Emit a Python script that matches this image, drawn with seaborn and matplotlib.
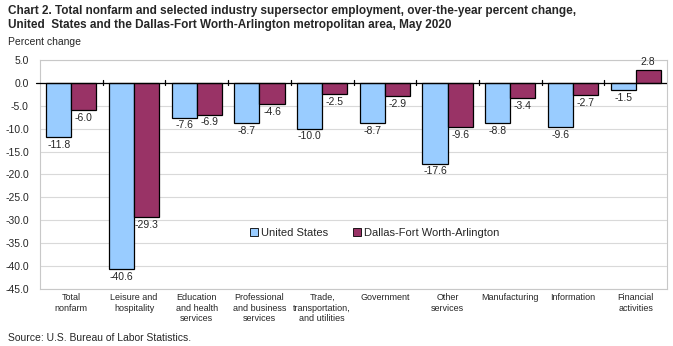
import numpy as np
import pandas as pd
import matplotlib
matplotlib.use("Agg")
import matplotlib.pyplot as plt
import seaborn as sns

categories = ["Total\nnonfarm", "Leisure and\nhospitality", "Education\nand health\nservices",
              "Professional\nand business\nservices", "Trade,\ntransportation,\nand utilities",
              "Government", "Other\nservices", "Manufacturing", "Information", "Financial\nactivities"]
us_values = [-11.8, -40.6, -7.6, -8.7, -10.0, -8.7, -17.6, -8.8, -9.6, -1.5]
dfw_values = [-6.0, -29.3, -6.9, -4.6, -2.5, -2.9, -9.6, -3.4, -2.7, 2.8]
series = ["United States", "Dallas-Fort Worth-Arlington"]
colors = ["#99CCFF", "#993366"]
yticks = [5.0, 0.0, -5.0, -10.0, -15.0, -20.0, -25.0, -30.0, -35.0, -40.0, -45.0]

df = pd.DataFrame({
    "category": categories * 2,
    "value": us_values + dfw_values,
    "series": [series[0]] * len(categories) + [series[1]] * len(categories),
})

sns.set_theme(style="white")
plt.rcParams['font.family'] = ['Liberation Sans', 'DejaVu Sans']

fig = plt.figure(figsize=(6.73, 3.46), dpi=100)
ax = fig.add_axes([40/673, (346-289)/346, (667-40)/673, (289-60)/346])

sns.barplot(data=df, x="category", y="value", hue="series", palette=colors,
            order=categories, hue_order=series, width=0.8, edgecolor="black",
            linewidth=0.9, ax=ax, saturation=1, legend=True)

ax.set_ylim(-45, 5)
ax.set_yticks(yticks)
ax.set_yticklabels([f"{v:.1f}" for v in yticks], fontsize=7.5)
ax.yaxis.grid(True, color="#d9d9d9", linewidth=0.8)
ax.set_axisbelow(True)
ax.set_xlim(-0.5, len(categories) - 0.5)
ax.tick_params(axis="x", length=0, labelsize=6.5, pad=3)
ax.tick_params(axis="y", length=0, pad=8)
ax.set_xlabel("")
ax.set_ylabel("")
for s in ax.spines.values():
    s.set_color("#c8c8c8")
    s.set_linewidth(0.8)

# zero line with category separators
ax.axhline(0, color="black", linewidth=0.9, zorder=5)
for b in np.arange(0.5, len(categories) - 0.5, 1.0):
    ax.plot([b, b], [-0.45, 0.7], color="black", linewidth=0.9, zorder=5)
ax.plot([-0.56, -0.5], [0, 0], color="black", linewidth=0.9, zorder=5, clip_on=False)

# value labels
for cont in ax.containers:
    for rect in cont:
        h = rect.get_height()
        x = rect.get_x() + rect.get_width() / 2
        if h >= 0:
            ax.annotate(f"{h:.1f}", (x, h), xytext=(0, 2), textcoords="offset points",
                        ha="center", va="bottom", fontsize=7.5)
        else:
            ax.annotate(f"{h:.1f}", (x, h), xytext=(0, -2), textcoords="offset points",
                        ha="center", va="top", fontsize=7.5)

leg = ax.legend(loc="center", bbox_to_anchor=(0.534, 0.245), ncol=2, frameon=False,
                fontsize=8, handlelength=0.7, handleheight=0.7, handletextpad=0.3,
                columnspacing=2.2)
for h in leg.legend_handles:
    h.set_edgecolor("black")
    h.set_linewidth(0.6)

fig.text(8/673, 1 - 5/346, "Chart 2. Total nonfarm and selected industry supersector employment, over-the-year percent change,\nUnited  States and the Dallas-Fort Worth-Arlington metropolitan area, May 2020",
         ha="left", va="top", fontsize=8.5, fontweight="bold", linespacing=1.2)
fig.text(8/673, 1 - 37/346, "Percent change", ha="left", va="top", fontsize=7.5)
fig.text(8/673, 1 - 333/346, "Source: U.S. Bureau of Labor Statistics.", ha="left", va="top", fontsize=7.5)

fig.savefig("out.png", dpi=100)
